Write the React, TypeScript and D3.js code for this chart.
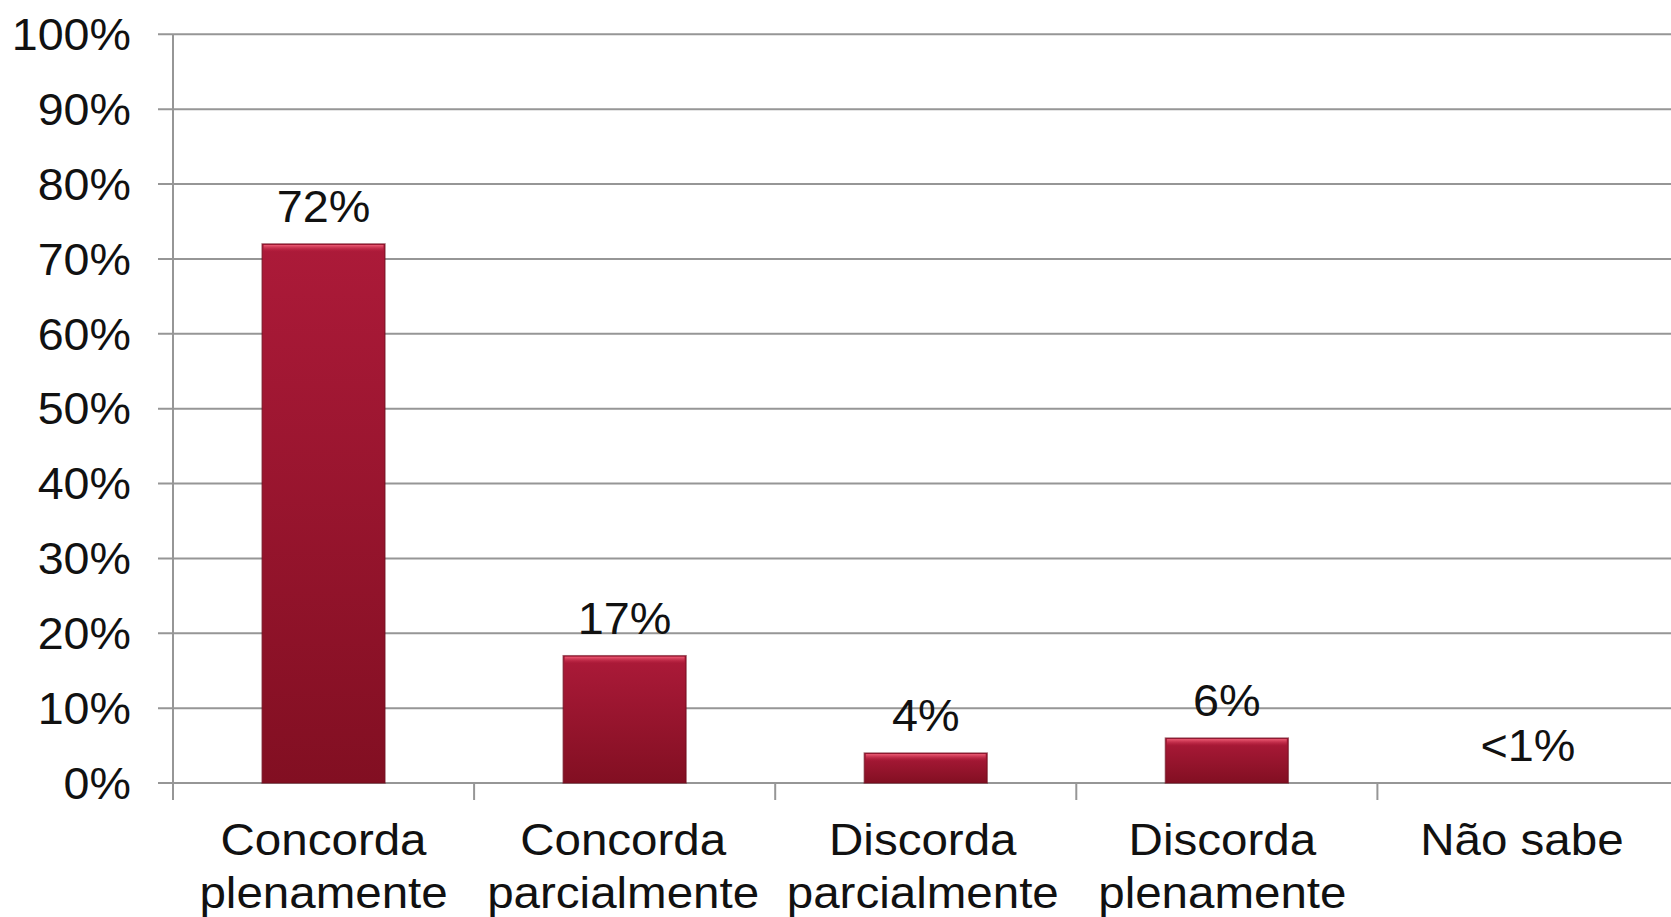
import { useEffect, useRef } from "react";
import * as d3 from "d3";

const categories = [
  ["Concorda", "plenamente"],
  ["Concorda", "parcialmente"],
  ["Discorda", "parcialmente"],
  ["Discorda", "plenamente"],
  ["Não sabe"],
];
const values = [72, 17, 4, 6, 0];
const valueLabels = ["72%", "17%", "4%", "6%", "<1%"];
const yTicks = [0, 10, 20, 30, 40, 50, 60, 70, 80, 90, 100];

const width = 1671;
const height = 917;
const font = "'Liberation Sans', Arial, sans-serif";
const stretch = 1.08; // the source text is a bit wider than plain Arial

export default function App() {
  const svgRef = useRef<SVGSVGElement>(null);

  useEffect(() => {
    if (!svgRef.current) return;
    const svg = d3.select(svgRef.current);
    svg.selectAll("*").remove();

    const left = 173;
    const band = 301.1;
    const x = d3
      .scaleBand<number>()
      .domain(d3.range(categories.length))
      .range([left, left + band * categories.length])
      .paddingInner(0)
      .paddingOuter(0);
    const y = d3.scaleLinear().domain([0, 100]).range([783, 34.3]);

    const defs = svg.append("defs");
    const grad = defs
      .append("linearGradient")
      .attr("id", "barGrad")
      .attr("x1", 0)
      .attr("y1", 0)
      .attr("x2", 0)
      .attr("y2", 1);
    grad.append("stop").attr("offset", "0%").attr("stop-color", "#ac1a39");
    grad.append("stop").attr("offset", "100%").attr("stop-color", "#820f22");

    const hi = defs
      .append("linearGradient")
      .attr("id", "hiGrad")
      .attr("x1", 0)
      .attr("y1", 0)
      .attr("x2", 0)
      .attr("y2", 1);
    hi.append("stop").attr("offset", "0%").attr("stop-color", "#f06078").attr("stop-opacity", 0.95);
    hi.append("stop").attr("offset", "100%").attr("stop-color", "#c02040").attr("stop-opacity", 0);

    // gridlines
    svg
      .append("g")
      .selectAll("line")
      .data(yTicks)
      .join("line")
      .attr("x1", 158)
      .attr("x2", width)
      .attr("y1", (d) => y(d))
      .attr("y2", (d) => y(d))
      .attr("stroke", "#969696")
      .attr("stroke-width", 2);

    // y axis line
    svg
      .append("line")
      .attr("x1", left)
      .attr("x2", left)
      .attr("y1", y(100))
      .attr("y2", 800)
      .attr("stroke", "#969696")
      .attr("stroke-width", 2);

    // x ticks at band boundaries
    svg
      .append("g")
      .selectAll("line")
      .data(d3.range(1, categories.length + 1))
      .join("line")
      .attr("x1", (i) => left + band * i)
      .attr("x2", (i) => left + band * i)
      .attr("y1", y(0))
      .attr("y2", 800)
      .attr("stroke", "#969696")
      .attr("stroke-width", 2);

    // y tick labels
    svg
      .append("g")
      .selectAll("text")
      .data(yTicks)
      .join("text")
      .attr("transform", (d) => `translate(131,${y(d)}) scale(1.06,1)`)
      .attr("dy", "0.36em")
      .attr("text-anchor", "end")
      .attr("font-family", font)
      .attr("font-size", 44)
      .attr("fill", "#111")
      .text((d) => `${d}%`);

    const bw = x.bandwidth() * 0.408;
    const bars = svg
      .append("g")
      .selectAll("g")
      .data(values)
      .join("g")
      .attr("transform", (_, i) => `translate(${x(i)! + (x.bandwidth() - bw) / 2},0)`);

    bars
      .filter((d) => d > 0)
      .append("rect")
      .attr("x", 0)
      .attr("width", bw)
      .attr("y", (d) => y(d))
      .attr("height", (d) => y(0) - y(d))
      .attr("fill", "url(#barGrad)")
      .attr("stroke", "#6e0c1c")
      .attr("stroke-opacity", 0.6)
      .attr("stroke-width", 1.5);

    bars
      .filter((d) => d > 0)
      .append("rect")
      .attr("x", 1.5)
      .attr("width", bw - 3)
      .attr("y", (d) => y(d) + 1)
      .attr("height", 7)
      .attr("fill", "url(#hiGrad)");

    // value labels
    svg
      .append("g")
      .selectAll("text")
      .data(values)
      .join("text")
      .attr(
        "transform",
        (d, i) => `translate(${x(i)! + x.bandwidth() / 2},${y(d) - 22}) scale(1.04,1)`
      )
      .attr("text-anchor", "middle")
      .attr("font-family", font)
      .attr("font-size", 45)
      .attr("fill", "#111")
      .text((_, i) => valueLabels[i]);

    // category labels
    const cat = svg
      .append("g")
      .selectAll("text")
      .data(categories)
      .join("text")
      .attr("transform", (_, i) => `translate(${x(i)! + x.bandwidth() / 2 - i * 1.5},855) scale(${stretch},1)`)
      .attr("text-anchor", "middle")
      .attr("font-family", font)
      .attr("font-size", 44)
      .attr("fill", "#111");
    cat
      .selectAll("tspan")
      .data((d) => d)
      .join("tspan")
      .attr("x", 0)
      .attr("y", (_, j) => j * 53)
      .text((d) => d);
  }, []);

  return (
    <svg
      ref={svgRef}
      width={width}
      height={height}
      style={{ position: "absolute", left: 0, top: 0, background: "#fff" }}
    />
  );
}
